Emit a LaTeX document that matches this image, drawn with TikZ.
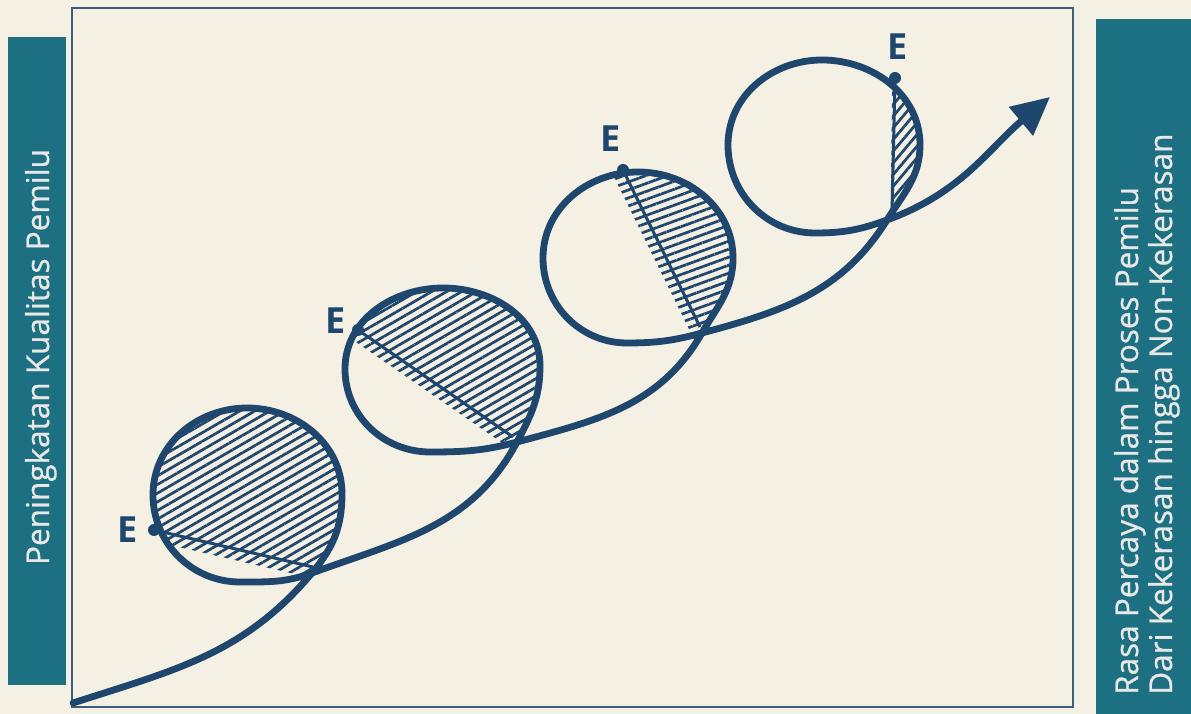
\documentclass[tikz,border=0pt]{standalone}
\usepackage{fontspec}
\setsansfont{Open Sans}
\newfontfamily\sidefont[FakeBold=0.8]{Open Sans}
\usetikzlibrary{arrows.meta,patterns.meta}
\definecolor{bgc}{HTML}{F4F0E4}
\definecolor{tealbox}{HTML}{1D7082}
\definecolor{boxtext}{HTML}{E8E8E8}
\definecolor{navy}{HTML}{1F466C}
\definecolor{framec}{HTML}{3E5C7C}
\tikzset{
  curve/.style={navy, line width=6.8pt, line cap=round, line join=round},
  chord/.style={navy, line width=3pt},
  elabel/.style={text=navy, font=\sffamily\bfseries\fontsize{36}{40}\selectfont, anchor=base, inner sep=0pt},
  sidetext/.style={text=boxtext, font=\sidefont\fontsize{31.5}{36}\selectfont, rotate=90, inner sep=0pt},
  edot/.style={circle, fill=navy, inner sep=0pt, minimum size=12pt},
  hatch/.style={pattern={Lines[angle=#1,distance=7.5pt,line width=2.7pt]}, pattern color=navy},
}
\begin{document}
\begin{tikzpicture}[x=1pt,y=1pt]
\useasboundingbox (0,0) rectangle (1191,714);
\fill[bgc] (0,0) rectangle (1191,714);
% frame
\draw[framec, line width=2.5pt] (72,7) rectangle (1073,706);
% side boxes
\fill[tealbox] (8,29) rectangle (66,677);
\fill[tealbox] (1096,0) rectangle (1191,695);
\node[sidetext, anchor=base] (ltext) at (49,357) {Peningkatan Kualitas Pemilu};
\node[sidetext, anchor=base west] (rtext1) at (1138,19) {Rasa Percaya dalam Proses Pemilu};
\node[sidetext, anchor=base west] (rtext2) at (1172,19) {Dari Kekerasan hingga Non-Kekerasan};

% key points
\coordinate (S) at (73,11);
\coordinate (C1) at (312,141); \coordinate (R1) at (342,220); \coordinate (T1) at (247,306); \coordinate (L1) at (153,219); \coordinate (B1) at (240,132);
\coordinate (C2) at (517,272); \coordinate (R2) at (540,348); \coordinate (T2) at (443,426); \coordinate (L2) at (345,345); \coordinate (B2) at (430,262);
\coordinate (C3) at (702,381); \coordinate (R3) at (733,456); \coordinate (T3) at (638,542); \coordinate (L3) at (543,456); \coordinate (B3) at (627,371);
\coordinate (C4) at (887,494); \coordinate (R4) at (920,569); \coordinate (T4) at (822,654); \coordinate (L4) at (728,569); \coordinate (B4) at (815,481);
\coordinate (A) at (1050,617);
\coordinate (E1) at (154,184); \coordinate (K1) at (313,147);
\coordinate (E2) at (358,384); \coordinate (K2) at (513,277);
\coordinate (E3) at (623,544); \coordinate (K3) at (700,387);
\coordinate (E4) at (895,636); \coordinate (K4) at (892,501);

% hatching
\begin{scope}
\clip (C1) to[out=50,in=270] (R1) to[out=90,in=0] (T1) to[out=180,in=90] (L1) to[out=270,in=180] (B1) to[out=0,in=200] (C1) -- cycle;
\fill[hatch=30] (100,185.3) -- (400,115.5) -- (400,400) -- (100,400) -- cycle;
\end{scope}
\begin{scope}
\clip (C2) to[out=62,in=270] (R2) to[out=90,in=0] (T2) to[out=180,in=90] (L2) to[out=270,in=180] (B2) to[out=0,in=195] (C2) -- cycle;
\fill[hatch=30] (300,410.6) -- (600,203.6) -- (600,500) -- (300,500) -- cycle;
\end{scope}
\begin{scope}
\clip (C3) to[out=60,in=270] (R3) to[out=90,in=0] (T3) to[out=180,in=90] (L3) to[out=270,in=180] (B3) to[out=0,in=195] (C3) -- cycle;
\fill[hatch=20] (583,600) -- (716,330) -- (800,330) -- (800,600) -- cycle;
\end{scope}
\begin{scope}
\clip (C4) to[out=58,in=270] (R4) to[out=90,in=0] (T4) to[out=180,in=90] (L4) to[out=270,in=180] (B4) to[out=0,in=200] (C4) -- cycle;
\fill[hatch=50] (893,700) -- (890,450) -- (960,450) -- (960,700) -- cycle;
\end{scope}

% chords
\draw[chord] (E1) -- (K1);
\draw[chord] (E2) -- (K2);
\draw[chord] (E3) -- (K3);
\draw[chord] (E4) -- (K4);

% main curve
\draw[curve, -{Triangle[length=38pt,width=36pt]}]
  (S) to[out=18,in=230] (C1)
  to[out=50,in=270] (R1) to[out=90,in=0] (T1) to[out=180,in=90] (L1) to[out=270,in=180] (B1) to[out=0,in=200] (C1)
  to[out=20,in=242] (C2)
  to[out=62,in=270] (R2) to[out=90,in=0] (T2) to[out=180,in=90] (L2) to[out=270,in=180] (B2) to[out=0,in=195] (C2)
  to[out=15,in=240] (C3)
  to[out=60,in=270] (R3) to[out=90,in=0] (T3) to[out=180,in=90] (L3) to[out=270,in=180] (B3) to[out=0,in=195] (C3)
  to[out=15,in=238] (C4)
  to[out=58,in=270] (R4) to[out=90,in=0] (T4) to[out=180,in=90] (L4) to[out=270,in=180] (B4) to[out=0,in=200] (C4)
  to[out=20,in=220] (A);

% E dots and labels
\node[edot] (d1) at (E1) {};
\node[edot] (d2) at (E2) {};
\node[edot] (d3) at (E3) {};
\node[edot] (d4) at (E4) {};
\node[elabel] (e1) at (128,171) {E};
\node[elabel] (e2) at (336,380) {E};
\node[elabel] (e3) at (611,562) {E};
\node[elabel] (e4) at (898,654) {E};
\end{tikzpicture}
\end{document}
